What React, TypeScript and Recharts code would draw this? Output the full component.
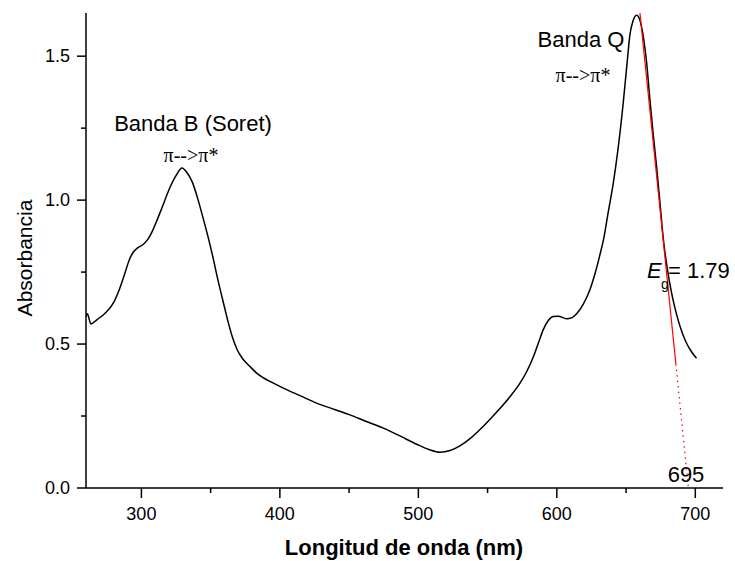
import { LineChart, Line, XAxis, YAxis } from 'recharts'

// ── Espectro UV-Vis ─────────────────────────────────────────────
const wavelength = [
  260, 261, 263.5, 268, 274, 280, 284, 288, 291.3, 294, 297.3, 301, 304.5, 307.5, 310.5, 315,
  320, 325, 329.3, 333, 337, 341, 344.2, 348, 351.5, 355, 358.7, 363, 366, 369, 373, 378.4, 383,
  388, 395, 402.5, 415, 426.6, 440, 450.6, 462, 474.7, 487, 498.8, 508, 515.6, 523, 530, 538,
  546, 552, 558.9, 566, 573.4, 578, 583, 587, 590.2, 594, 597.4, 601, 607, 611, 614.3, 619, 623.9,
  628, 631.1, 634, 637, 640.8, 644, 648, 651, 652.8, 655, 657.6, 660, 662.4, 665, 667.2,
  669.5, 672, 674.5, 676.8, 680, 682.9, 686, 688.9, 693, 697, 700.9,
]
const absorbance = [
  0.595, 0.605, 0.57, 0.585, 0.608, 0.645, 0.689, 0.745, 0.793, 0.818, 0.834, 0.845, 0.863, 0.888, 0.921, 0.975,
  1.037, 1.085, 1.112, 1.095, 1.06, 1.0, 0.944, 0.875, 0.805, 0.728, 0.654, 0.57, 0.52, 0.482, 0.45, 0.422, 0.4,
  0.383, 0.365, 0.347, 0.32, 0.295, 0.272, 0.254, 0.232, 0.208, 0.18, 0.152, 0.133, 0.124, 0.13, 0.146, 0.174,
  0.21, 0.24, 0.276, 0.316, 0.364, 0.402, 0.455, 0.508, 0.55, 0.583, 0.596, 0.597, 0.588, 0.592, 0.605, 0.638, 0.689,
  0.752, 0.81, 0.87, 0.955, 1.06, 1.17, 1.34, 1.49, 1.575, 1.622, 1.642, 1.625, 1.57, 1.47, 1.35,
  1.235, 1.118, 0.99, 0.87, 0.755, 0.677, 0.612, 0.563, 0.51, 0.475, 0.451,
]

// tangente (Eg)
const tangentSolidX = [660, 686]
const tangentSolidY = [1.65, 0.43]
const tangentDotX = [686, 695]
const tangentDotY = [0.43, 0]

const xTicks = [300, 350, 400, 450, 500, 550, 600, 650, 700]
const yTicks = [0, 0.25, 0.5, 0.75, 1.0, 1.25, 1.5]

const spectrum = wavelength.map((x, i) => ({ x, y: absorbance[i] }))
const tangentSolid = tangentSolidX.map((x, i) => ({ x, y: tangentSolidY[i] }))
const tangentDot = tangentDotX.map((x, i) => ({ x, y: tangentDotY[i] }))

const SANS = '"Liberation Sans", Arial, sans-serif'
const SERIF = '"Liberation Serif", "Times New Roman", serif'

function XTick({ x, y, payload }: any) {
  const major = payload.value % 100 === 0
  return (
    <g>
      <line x1={x} x2={x} y1={y} y2={y + (major ? 10 : 5)} stroke="#000" strokeWidth={1.5} />
      {major && (
        <text x={x} y={y + 32} textAnchor="middle" fontSize={18} fontFamily={SANS} fill="#000">
          {payload.value}
        </text>
      )}
    </g>
  )
}

function YTick({ x, y, payload }: any) {
  const major = Math.abs((payload.value * 2) % 1) < 1e-6
  return (
    <g>
      <line x1={x} x2={x - (major ? 9 : 5)} y1={y} y2={y} stroke="#000" strokeWidth={1.5} />
      {major && (
        <text x={x - 16} y={y} dy="0.35em" textAnchor="end" fontSize={18} fontFamily={SANS} fill="#000">
          {payload.value.toFixed(1)}
        </text>
      )}
    </g>
  )
}

export default function App() {
  return (
    <div style={{ position: 'absolute', left: 0, top: 0, width: 735, height: 561, background: '#fff' }}>
      <LineChart width={735} height={561} margin={{ top: 13, right: 12, left: 26, bottom: 43 }}>
        <XAxis
          dataKey="x"
          type="number"
          domain={[260, 720]}
          ticks={xTicks}
          allowDataOverflow
          height={30}
          tickSize={0}
          tickMargin={0}
          tickLine={false}
          axisLine={{ stroke: '#000', strokeWidth: 1.5 }}
          tick={<XTick />}
        />
        <YAxis
          type="number"
          domain={[0, 1.65]}
          ticks={yTicks}
          allowDataOverflow
          width={60}
          tickSize={0}
          tickMargin={0}
          tickLine={false}
          axisLine={{ stroke: '#000', strokeWidth: 1.5 }}
          tick={<YTick />}
        />
        <Line data={spectrum} dataKey="y" type="monotone" stroke="#000" strokeWidth={1.5} dot={false} isAnimationActive={false} />
        <Line data={tangentSolid} dataKey="y" type="linear" stroke="#ff0000" strokeWidth={1.2} dot={false} isAnimationActive={false} />
        <Line data={tangentDot} dataKey="y" type="linear" stroke="#ff0000" strokeWidth={1.2} strokeDasharray="1.5 4" dot={false} isAnimationActive={false} />
      </LineChart>

      <svg width={735} height={561} style={{ position: 'absolute', left: 0, top: 0, pointerEvents: 'none' }}>
        <text x={404} y={555} textAnchor="middle" fontSize={22} fontWeight="bold" fontFamily={SANS}>
          Longitud de onda (nm)
        </text>
        <text transform="translate(32,258) rotate(-90)" textAnchor="middle" fontSize={21} fontFamily={SANS}>
          Absorbancia
        </text>

        <text x={193} y={131} textAnchor="middle" fontSize={22} fontFamily={SANS}>Banda B (Soret)</text>
        <text x={191} y={162} textAnchor="middle" fontSize={20} fontFamily={SERIF}>π--&gt;π*</text>

        <text x={581} y={47} textAnchor="middle" fontSize={22} fontFamily={SANS}>Banda Q</text>
        <text x={583} y={82} textAnchor="middle" fontSize={20} fontFamily={SERIF}>π--&gt;π*</text>

        <text x={647} y={278} fontSize={22} fontStyle="italic" fontFamily={SANS}>E</text>
        <text x={661} y={289} fontSize={14} fontFamily={SANS}>g</text>
        <text x={668} y={278} fontSize={22} fontFamily={SANS}>= 1.79</text>

        <text x={686} y={482} textAnchor="middle" fontSize={22} fontFamily={SANS}>695</text>
      </svg>
    </div>
  )
}
